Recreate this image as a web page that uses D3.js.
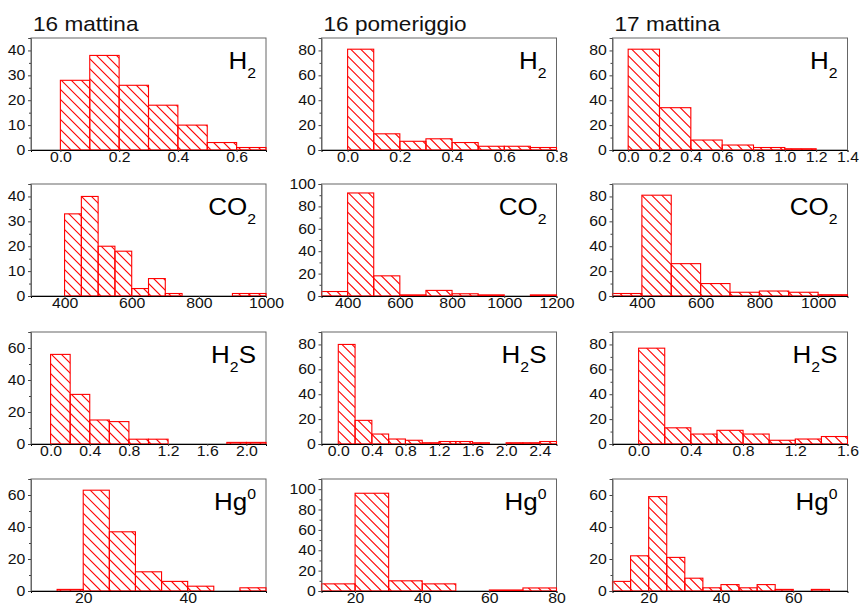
<!DOCTYPE html>
<html>
<head>
<meta charset="utf-8">
<script src="https://cdn.jsdelivr.net/npm/d3@7"></script>
<style>
  body { margin: 0; background: #fff; }
  text { font-family: "Liberation Sans", Arial, sans-serif; }
</style>
</head>
<body>
<div id="chart"></div>
<script>
// Data: counts per bin, [first bin edge, bin width], columns = days
var colTitles = ["16 mattina", "16 pomeriggio", "17 mattina"];
var gasNames = ["H2", "CO2", "H2S", "Hg0"];

var h2Counts  = [[28, 38, 26, 18, 10, 3, 1], [81, 13, 7, 9, 6, 3, 3, 2], [81, 34, 8, 4, 2, 1]];
var h2Bins    = [[0, 0.1], [0, 0.1], [0, 0.2]];
var co2Counts = [[33, 40, 20, 18, 3, 7, 1, 0, 0, 0, 1, 1], [4, 92, 18, 1, 5, 2, 1, 0, 1], [2, 81, 26, 10, 3, 4, 3, 1]];
var co2Bins   = [[400, 50], [300, 100], [300, 100]];
var h2sCounts = [[56, 31, 15, 14, 3, 3, 0, 0, 0, 1, 1], [80, 19, 8, 4, 3, 1, 2, 2, 1, 0, 1, 1, 2], [77, 13, 8, 11, 8, 3, 4, 6]];
var h2sBins   = [[0, 0.2], [0, 0.2], [0, 0.2]];
var hgCounts  = [[1, 63, 37, 12, 6, 3, 0, 2], [7, 96, 10, 7, 0, 1, 3], [6, 22, 59, 21, 8, 2, 4, 2, 4, 1, 0, 1]];
var hgBins    = [[15, 5], [10, 10], [10, 5]];

// axis ranges and tick labels
var xDomains = [
  [[-0.1, 0.7], [-0.1, 0.8], [-0.1, 1.4]],
  [[300, 1000], [300, 1200], [300, 1100]],
  [[-0.2, 2.2], [-0.2, 2.6], [-0.2, 1.6]],
  [[10, 55], [10, 80], [10, 75]]
];
var xTicks = [
  [[0, 0.2, 0.4, 0.6], [0, 0.2, 0.4, 0.6, 0.8], [0, 0.2, 0.4, 0.6, 0.8, 1.0, 1.2, 1.4]],
  [[400, 600, 800, 1000], [400, 600, 800, 1000, 1200], [400, 600, 800, 1000]],
  [[0, 0.4, 0.8, 1.2, 1.6, 2.0], [0, 0.4, 0.8, 1.2, 1.6, 2.0, 2.4], [0, 0.4, 0.8, 1.2, 1.6]],
  [[20, 40], [20, 40, 60, 80], [20, 40, 60]]
];
var xFormats = [".1f", "d", ".1f", "d"];
var yMax = [[45, 90, 90], [45, 100, 90], [70, 90, 90], [70, 110, 70]];
var yStep = [[10, 20, 20], [10, 20, 20], [20, 20, 20], [20, 20, 20]];

var allCounts = [h2Counts, co2Counts, h2sCounts, hgCounts];
var allBins = [h2Bins, co2Bins, h2sBins, hgBins];

var W = 859, H = 606;
var colLeft = [31, 321.5, 612.5];
var rowTop = [38, 184, 332, 479];
var pw = 235, ph = 112;
var stretch = 'scale(1.13,1)';   // the original text is a bit wide

var svg = d3.select('#chart').append('svg')
    .attr('width', W)
    .attr('height', H);

// column titles
svg.selectAll('.coltitle')
    .data(colTitles)
    .enter()
    .append('text')
    .attr('class', 'coltitle')
    .attr('transform', function(d, i) { return 'translate(' + (colLeft[i] + 2) + ',31) ' + stretch; })
    .style('font-size', '20px')
    .style('fill', '#111')
    .text(function(d) { return d; });

for (var r = 0; r < 4; r++) {
  for (var c = 0; c < 3; c++) {
    drawPanel(r, c);
  }
}

function drawPanel(r, c) {
  var counts = allCounts[r][c];
  var bin = allBins[r][c];
  var data = counts.map(function(v, i) {
    return { x0: bin[0] + i * bin[1], x1: bin[0] + (i + 1) * bin[1], n: v };
  }).filter(function(d) { return d.n > 0; });

  var g = svg.append('g')
      .attr('transform', 'translate(' + colLeft[c] + ',' + rowTop[r] + ')');

  var x = d3.scaleLinear().domain(xDomains[r][c]).range([0, pw]);
  var y = d3.scaleLinear().domain([0, yMax[r][c]]).range([ph, 0]);

  // frame
  g.append('rect')
      .attr('width', pw)
      .attr('height', ph)
      .attr('fill', 'none')
      .attr('stroke', '#666')
      .attr('stroke-width', 1);

  // hatch: diagonal lines clipped to the bars
  var clipId = 'clip' + r + '_' + c;
  g.append('clipPath')
      .attr('id', clipId)
      .selectAll('rect')
      .data(data)
      .enter()
      .append('rect')
      .attr('x', function(d) { return x(d.x0); })
      .attr('y', function(d) { return y(d.n); })
      .attr('width', function(d) { return x(d.x1) - x(d.x0); })
      .attr('height', function(d) { return ph - y(d.n); });

  g.append('g')
      .attr('clip-path', 'url(#' + clipId + ')')
      .selectAll('line')
      .data(d3.range(-ph, pw + 10, 10))
      .enter()
      .append('line')
      .attr('x1', function(d) { return d; })
      .attr('y1', 0)
      .attr('x2', function(d) { return d + ph; })
      .attr('y2', ph)
      .attr('stroke', '#ff0000')
      .attr('stroke-width', 1.1);

  // bar outlines
  g.selectAll('.bar')
      .data(data)
      .enter()
      .append('rect')
      .attr('class', 'bar')
      .attr('x', function(d) { return x(d.x0); })
      .attr('y', function(d) { return y(d.n); })
      .attr('width', function(d) { return x(d.x1) - x(d.x0); })
      .attr('height', function(d) { return ph - y(d.n); })
      .attr('fill', 'none')
      .attr('stroke', '#ff0000')
      .attr('stroke-width', 1.1);

  // y axis with minor ticks
  var step = yStep[r][c];
  var yMajor = d3.range(0, yMax[r][c] + 0.001, step);
  var yMinor = d3.range(step / 2, yMax[r][c] + 0.001, step);
  var yAx = g.append('g')
      .call(d3.axisLeft(y).tickValues(yMajor).tickSize(3).tickPadding(2).tickFormat(d3.format('d')));
  yAx.append('g')
      .call(d3.axisLeft(y).tickValues(yMinor).tickSize(2).tickFormat(''))
      .select('.domain').remove();

  // x axis
  var xAx = g.append('g')
      .attr('transform', 'translate(0,' + ph + ')')
      .call(d3.axisBottom(x).tickValues(xTicks[r][c]).tickSize(2).tickPadding(0).tickFormat(d3.format(xFormats[r])));

  [yAx, xAx].forEach(function(ax) {
    ax.selectAll('text')
        .attr('transform', stretch)
        .style('font-size', '14px')
        .style('fill', '#111')
        .style('font-family', '"Liberation Sans", Arial, sans-serif');
    ax.selectAll('line').attr('stroke', '#444');
  });
  yAx.select('.domain').attr('stroke', '#666');
  xAx.select('.domain').attr('stroke', '#000');

  // gas label
  var lab = g.append('text')
      .attr('transform', 'translate(' + (pw - 10) + ',31) ' + stretch)
      .attr('text-anchor', 'end')
      .style('font-size', '23px')
      .style('fill', '#000');
  var name = gasNames[r];
  if (name === 'H2') {
    lab.append('tspan').text('H');
    lab.append('tspan').attr('dy', 9).style('font-size', '14px').text('2');
  } else if (name === 'CO2') {
    lab.append('tspan').text('CO');
    lab.append('tspan').attr('dy', 9).style('font-size', '14px').text('2');
  } else if (name === 'H2S') {
    lab.append('tspan').text('H');
    lab.append('tspan').attr('dy', 9).style('font-size', '14px').text('2');
    lab.append('tspan').attr('dy', -9).text('S');
  } else {
    lab.append('tspan').text('Hg');
    lab.append('tspan').attr('dy', -11).style('font-size', '14px').text('0');
  }
}
</script>
</body>
</html>
